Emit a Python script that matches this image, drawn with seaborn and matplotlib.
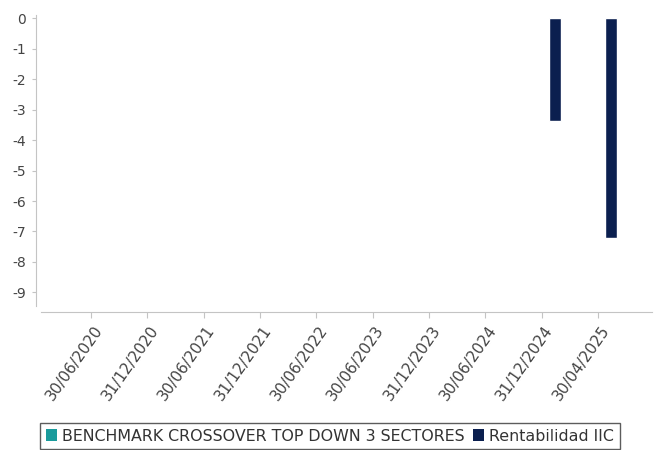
import matplotlib
matplotlib.use('Agg')
import matplotlib.pyplot as plt
import matplotlib.transforms as mtransforms
from matplotlib.patches import Patch
import numpy as np
import pandas as pd
import seaborn as sns

# Data
dates = ['30/06/2020', '31/12/2020', '30/06/2021', '31/12/2021', '30/06/2022',
         '30/06/2023', '31/12/2023', '30/06/2024', '31/12/2024', '30/04/2025']
benchmark = [np.nan] * 10
rentabilidad = [np.nan] * 8 + [-3.37, -7.22]
series_names = ['BENCHMARK CROSSOVER TOP DOWN 3 SECTORES', 'Rentabilidad IIC']
colors = ['#1a9b9c', '#0b1f4f']

df = pd.DataFrame({
    'fecha': dates * 2,
    'serie': [series_names[0]] * 10 + [series_names[1]] * 10,
    'valor': benchmark + rentabilidad,
})

sns.set_style('white')
plt.rcParams['font.family'] = ['DejaVu Sans']

fig = plt.figure(figsize=(6.57, 4.5), dpi=100)
ax = fig.add_axes([36 / 657, 1 - 312 / 450, (652 - 36) / 657, (312 - 15) / 450])

sns.barplot(data=df, x='fecha', y='valor', hue='serie', order=dates,
            hue_order=series_names, palette=colors, width=0.92, gap=0.54,
            saturation=1, errorbar=None, legend=False, ax=ax)

ax.set_xlim(-0.98, 9.96)
ax.set_ylim(-9.64, 0.1)
ax.set_yticks(range(0, -10, -1))
ax.set_yticklabels([str(v) for v in range(0, -10, -1)])
ax.set_xlabel('')
ax.set_ylabel('')

for s in ['top', 'right']:
    ax.spines[s].set_visible(False)
ax.spines['left'].set_color('#c4c4c4')
ax.spines['bottom'].set_color('#c4c4c4')
ax.spines['left'].set_bounds(-9.45, 0.1)
ax.spines['bottom'].set_bounds(-0.9, 9.96)

ax.tick_params(axis='y', length=3, color='#c4c4c4', labelsize=10,
               labelcolor='#444444', pad=4, left=True)
ax.tick_params(axis='x', length=4, color='#c4c4c4', labelsize=11,
               labelcolor='#444444', pad=7, bottom=True)

offset = mtransforms.ScaledTranslation(8 / 100, 0, fig.dpi_scale_trans)
for lbl in ax.get_xticklabels():
    lbl.set_rotation(55)
    lbl.set_ha('right')
    lbl.set_va('center')
    lbl.set_rotation_mode('anchor')
    lbl.set_transform(lbl.get_transform() + offset)

handles = [Patch(facecolor=c, edgecolor='none') for c in colors]
leg = fig.legend(handles, series_names, loc='upper left',
                 bbox_to_anchor=(40 / 657, 1 - 423 / 450), ncol=2,
                 fontsize=11.4, frameon=True, fancybox=False,
                 handlelength=0.7, handleheight=0.7, handletextpad=0.35,
                 columnspacing=0.5, borderpad=0.35, borderaxespad=0)
leg.get_frame().set_edgecolor('#333333')
leg.get_frame().set_linewidth(1.0)
for t in leg.get_texts():
    t.set_color('#333333')

fig.savefig('out.png', dpi=100)
